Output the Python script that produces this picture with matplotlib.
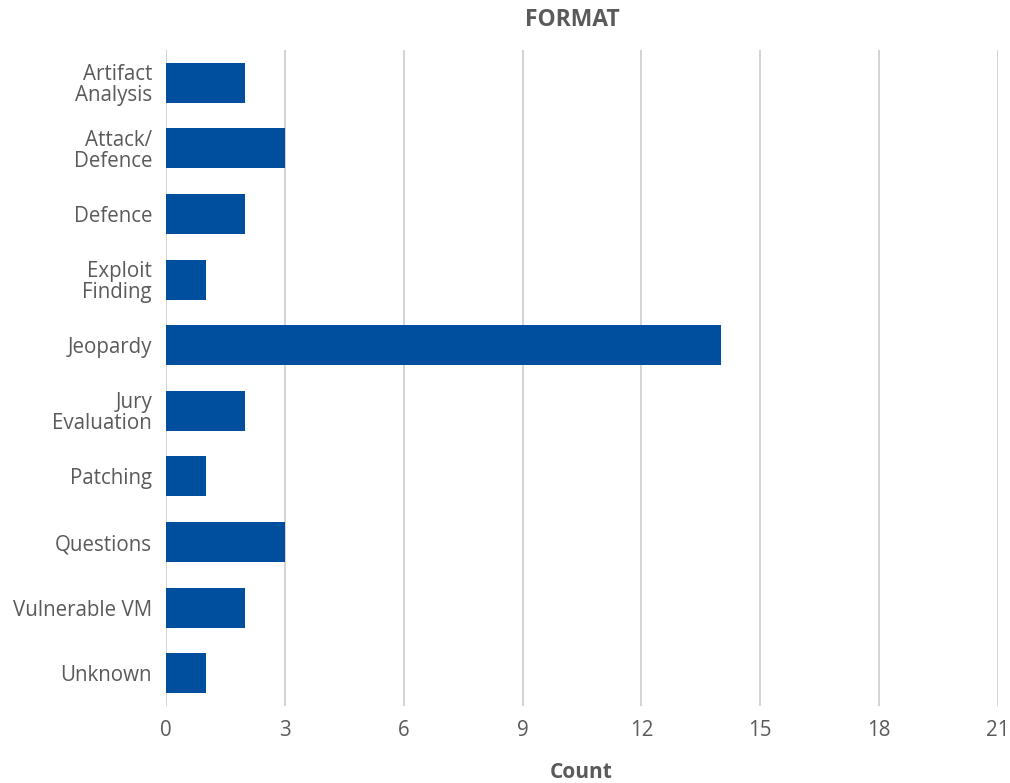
import matplotlib
matplotlib.use("Agg")
import matplotlib.pyplot as plt

categories = ["Artifact\nAnalysis", "Attack/\nDefence", "Defence", "Exploit\nFinding",
              "Jeopardy", "Jury\nEvaluation", "Patching", "Questions", "Vulnerable VM", "Unknown"]
counts = [2, 3, 2, 1, 14, 2, 1, 3, 2, 1]
xticks = [0, 3, 6, 9, 12, 15, 18, 21]

plt.rcParams['font.family'] = ['Open Sans', 'DejaVu Sans']
text_color = "#5a5a5a"

fig = plt.figure(figsize=(10.1, 7.83), dpi=100)
W, H = 1010, 783
ax = fig.add_axes([166 / W, (H - 706) / H, (998 - 166) / W, (706 - 50) / H])

y = list(range(len(categories)))
ax.barh(y, counts, height=0.61, color="#004f9f", zorder=3)
ax.set_ylim(len(categories) - 0.5, -0.5)
ax.set_xlim(0, 21)
ax.set_xticks(xticks)
ax.set_yticks(y)
ax.set_yticklabels(categories, fontsize=14.8, color=text_color,
                   multialignment="right", linespacing=1.0)
ax.tick_params(axis="x", length=0, pad=10, labelsize=14.8, labelcolor=text_color)
ax.tick_params(axis="y", length=0, pad=10)
for s in ax.spines.values():
    s.set_visible(False)
ax.grid(axis="x", color="#cccccc", linewidth=1.2, zorder=0)
ax.set_axisbelow(True)

fig.text(572 / W, 1 - 20 / H, "FORMAT", ha="center", va="center", fontsize=16.5,
         fontweight="bold", color=text_color)
fig.text(581 / W, 1 - 773 / H, "Count", ha="center", va="center", fontsize=15,
         fontweight="bold", color=text_color)

fig.savefig("out.png", dpi=100)
